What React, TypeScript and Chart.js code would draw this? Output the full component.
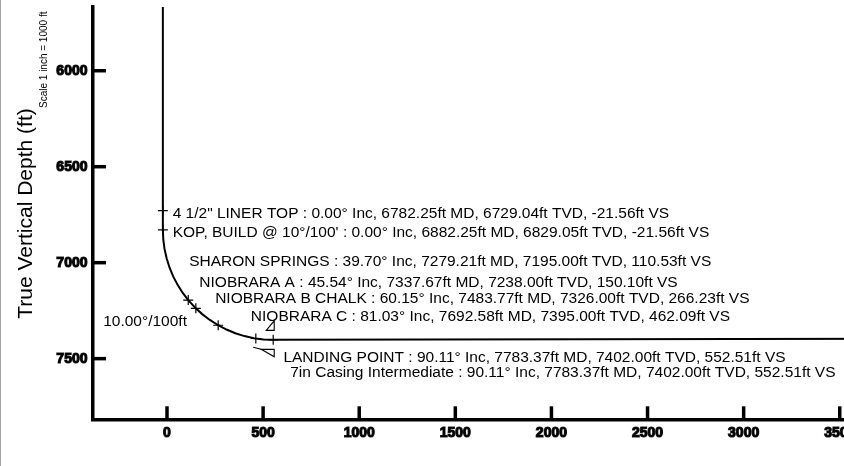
import React, { useEffect, useRef } from "react";
import { Chart, registerables } from "chart.js";

Chart.register(...registerables);

// ---- Data ----
const surveyNames = [
  '4 1/2" LINER TOP',
  "KOP, BUILD @ 10°/100'",
  "SHARON SPRINGS",
  "NIOBRARA A",
  "NIOBRARA B CHALK",
  "NIOBRARA C",
  "LANDING POINT",
  "7in Casing Intermediate",
];
const surveyInc = [0.0, 0.0, 39.7, 45.54, 60.15, 81.03, 90.11, 90.11];
const surveyMD = [6782.25, 6882.25, 7279.21, 7337.67, 7483.77, 7692.58, 7783.37, 7783.37];
const surveyTVD = [6729.04, 6829.05, 7195.0, 7238.0, 7326.0, 7395.0, 7402.0, 7402.0];
const surveyVS = [-21.56, -21.56, 110.53, 150.1, 266.23, 462.09, 552.51, 552.51];

// Well path (VS ft, TVD ft)
const pathVS = [
  -21.56, -21.56, -21.56, -19.4, -12.9, -2.0, 13.0, 32.1, 55.2, 82.0, 110.53, 146.3, 150.1,
  183.1, 222.8, 266.23, 309.3, 355.4, 403.1, 451.9, 462.09, 501.5, 552.51, 3777,
];
const pathTVD = [
  5668, 6729.04, 6829.05, 6879.0, 6928.5, 6977.3, 7025.0, 7071.2, 7115.5, 7157.7, 7195.0, 7234.2,
  7238.0, 7268.0, 7298.4, 7326.0, 7348.3, 7367.5, 7382.5, 7393.3, 7395.0, 7399.8, 7402.0, 7396,
];

const xTicks = [0, 500, 1000, 1500, 2000, 2500, 3000, 3500];
const yTicks = [6000, 6500, 7000, 7500];

const buildRateLabel = "10.00°/100ft";
const axisTitle = "True Vertical Depth (ft)";
const scaleNote = "Scale 1 inch = 1000 ft";

// ---- Styling / placement (pixel offsets of labels from their survey point) ----
const labelOffsets = [
  [9.8, 7],
  [9.8, 7],
  [1, -34],
  [3.5, -21],
  [-3, -22],
  [-5, -17.6],
  [10.2, 22],
  [17, 37],
];
const buildLabelAnchor = 4; // placed relative to NIOBRARA B CHALK point
const buildLabelOffset = [-115, 1];

const FONT = '"Liberation Sans", Arial, Helvetica, sans-serif';

const fmt = (i: number) =>
  `${surveyNames[i]} : ${surveyInc[i].toFixed(2)}° Inc, ${surveyMD[i].toFixed(2)}ft MD, ${surveyTVD[i].toFixed(2)}ft TVD, ${surveyVS[i].toFixed(2)}ft VS`;

const overlayPlugin = {
  id: "overlay",
  afterDatasetsDraw(chart: any) {
    const ctx = chart.ctx as CanvasRenderingContext2D;
    const xs = chart.scales.x;
    const ys = chart.scales.y;
    const area = chart.chartArea;
    ctx.save();

    // inward tick marks
    ctx.strokeStyle = "#000";
    ctx.lineWidth = 3.5;
    ctx.lineCap = "butt";
    xs.ticks.forEach((t: any) => {
      const px = xs.getPixelForValue(t.value);
      ctx.beginPath();
      ctx.moveTo(px, area.bottom);
      ctx.lineTo(px, area.bottom - 13);
      ctx.stroke();
    });
    ys.ticks.forEach((t: any) => {
      const py = ys.getPixelForValue(t.value);
      ctx.beginPath();
      ctx.moveTo(area.left, py);
      ctx.lineTo(area.left + 13, py);
      ctx.stroke();
    });

    // survey labels
    ctx.fillStyle = "#000";
    ctx.font = `15.5px ${FONT}`;
    ctx.textAlign = "left";
    ctx.textBaseline = "alphabetic";
    surveyNames.forEach((_, i) => {
      const px = xs.getPixelForValue(surveyVS[i]);
      const py = ys.getPixelForValue(surveyTVD[i]);
      ctx.fillText(fmt(i), px + labelOffsets[i][0], py + labelOffsets[i][1]);
    });

    // build rate label
    {
      const px = xs.getPixelForValue(surveyVS[buildLabelAnchor]);
      const py = ys.getPixelForValue(surveyTVD[buildLabelAnchor]);
      ctx.fillText(buildRateLabel, px + buildLabelOffset[0], py + buildLabelOffset[1]);
    }

    // casing / landing symbols near landing point
    {
      const px = xs.getPixelForValue(surveyVS[6]) + 1;
      const py = ys.getPixelForValue(surveyTVD[6]);
      ctx.lineWidth = 1.1;
      ctx.beginPath();
      ctx.moveTo(px - 8, py - 9.5);
      ctx.lineTo(px, py - 9.5);
      ctx.lineTo(px, py - 19);
      ctx.closePath();
      ctx.stroke();
      ctx.beginPath();
      ctx.moveTo(px - 13, py + 9.5);
      ctx.lineTo(px, py + 9.5);
      ctx.lineTo(px, py + 17);
      ctx.closePath();
      ctx.stroke();
      ctx.beginPath();
      ctx.moveTo(px - 21, py + 7.5);
      ctx.lineTo(px - 13, py + 9.5);
      ctx.stroke();
    }

    // axis title and scale note
    ctx.font = `21px ${FONT}`;
    ctx.textAlign = "center";
    ctx.save();
    ctx.translate(32, 213.5);
    ctx.rotate(-Math.PI / 2);
    ctx.fillText(axisTitle, 0, 0);
    ctx.restore();

    ctx.font = `10px ${FONT}`;
    ctx.textAlign = "left";
    ctx.save();
    ctx.translate(46.5, 108);
    ctx.rotate(-Math.PI / 2);
    ctx.fillText(scaleNote, 0, 0);
    ctx.restore();

    // left frame line
    ctx.fillStyle = "#a3a3a3";
    ctx.fillRect(0, 0, 1, chart.height);

    ctx.restore();
  },
};

export default function App() {
  const ref = useRef<HTMLCanvasElement | null>(null);

  useEffect(() => {
    if (!ref.current) return;
    const tickFont = { family: FONT, size: 14, weight: "bold" as const };
    const chart = new Chart(ref.current, {
      type: "scatter",
      data: {
        datasets: [
          {
            data: pathVS.map((v, i) => ({ x: v, y: pathTVD[i] })),
            showLine: true,
            borderColor: "#000",
            borderWidth: 2,
            pointRadius: 0,
            tension: 0,
            fill: false,
          },
          {
            data: surveyVS.slice(0, 7).map((v, i) => ({ x: v, y: surveyTVD[i] })),
            showLine: false,
            pointStyle: "cross",
            pointRadius: 5,
            borderColor: "#000",
            borderWidth: 1.2,
            backgroundColor: "#000",
          },
        ],
      },
      options: {
        animation: false,
        responsive: false,
        devicePixelRatio: window.devicePixelRatio || 1,
        layout: { padding: { left: 0, top: 7, right: 7, bottom: 0 } },
        plugins: { legend: { display: false }, tooltip: { enabled: false } },
        events: [],
        scales: {
          x: {
            type: "linear",
            min: -385,
            max: 3777,
            grid: { drawOnChartArea: false, drawTicks: false },
            border: { display: true, width: 3.5, color: "#000" },
            ticks: {
              font: tickFont,
              color: "#000",
              padding: 5,
              maxRotation: 0,
              autoSkip: false,
              textStrokeColor: "#222",
              textStrokeWidth: 1.2,
              callback: (v: any) => String(v),
            },
            afterBuildTicks: (s: any) => {
              s.ticks = xTicks.map((v) => ({ value: v }));
            },
            afterFit: (s: any) => {
              s.height = 46.7;
              s.paddingLeft = 0;
              s.paddingRight = 0;
            },
          },
          y: {
            type: "linear",
            reverse: true,
            min: 5668,
            max: 7816,
            grid: { drawOnChartArea: false, drawTicks: false },
            border: { display: true, width: 3.5, color: "#000" },
            ticks: {
              font: tickFont,
              color: "#000",
              padding: 5.5,
              autoSkip: false,
              textStrokeColor: "#222",
              textStrokeWidth: 1.2,
              callback: (v: any) => String(v),
            },
            afterBuildTicks: (s: any) => {
              s.ticks = yTicks.map((v) => ({ value: v }));
            },
            afterFit: (s: any) => {
              s.width = 93;
              s.paddingTop = 0;
              s.paddingBottom = 0;
            },
          },
        },
      },
      plugins: [overlayPlugin],
    });
    return () => chart.destroy();
  }, []);

  return (
    <div
      style={{
        position: "fixed",
        left: 0,
        top: 0,
        width: 844,
        height: 466,
        overflow: "hidden",
        background: "#fff",
      }}
    >
      <canvas ref={ref} width={900} height={466} style={{ display: "block", width: 900, height: 466 }} />
    </div>
  );
}
